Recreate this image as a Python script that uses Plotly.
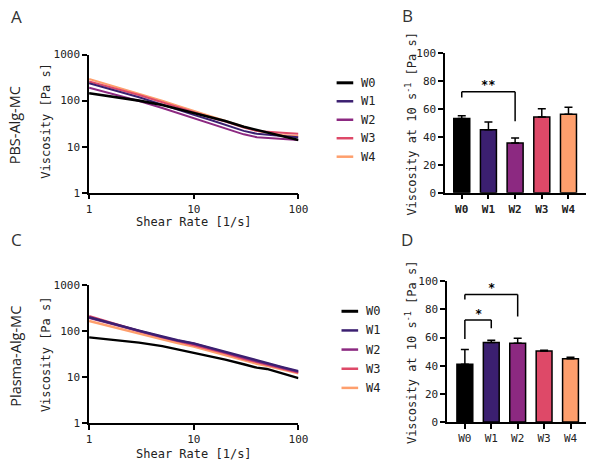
import plotly.graph_objects as go

# ---------------- data ----------------
groups = ["W0", "W1", "W2", "W3", "W4"]
colors = ["#000000", "#3b1f70", "#8c2981", "#de4968", "#fe9f6d"]

shear_rate = [1, 1.5, 2, 3, 5, 7, 10, 15, 20, 30, 40, 50, 70, 100]

pbs_W0 = [145, 128, 117, 100, 80, 66, 55, 43, 36, 27, 23, 20.5, 17, 14]
pbs_W1 = [240, 185, 152, 118, 82, 63, 49, 37, 30, 22, 19, 18, 17, 16]
pbs_W2 = [190, 150, 125, 98, 69, 54, 42, 31, 25, 18.5, 16, 15.5, 14.5, 14]
pbs_W3 = [260, 205, 170, 132, 92, 72, 56, 42, 35, 26, 22, 21, 20, 19]
pbs_W4 = [295, 225, 185, 145, 100, 78, 60, 45, 37, 27, 22, 20, 18, 17]

pla_W0 = [73, 67, 62, 56, 47, 40, 34, 28, 24, 19, 16, 15, 12, 9.5]
pla_W1 = [200, 155, 130, 102, 76, 63, 54, 42, 35, 27, 22.5, 20, 16.5, 13.5]
pla_W2 = [195, 152, 128, 100, 74, 62, 53, 41, 34, 26, 22, 19.5, 16, 13]
pla_W3 = [210, 158, 130, 100, 74, 61, 51, 40, 33, 25, 21, 19, 15.5, 12.5]
pla_W4 = [165, 130, 110, 88, 66, 55, 46, 36, 30, 23, 19.5, 17.5, 14.5, 12]

pbs_bar_mean = [53, 45, 35.5, 54, 56]
pbs_bar_err = [2, 5.5, 3.5, 6, 5]
pla_bar_mean = [41, 56.5, 56, 50.5, 45]
pla_bar_err = [10.5, 1.5, 3.5, 0.5, 1]

log_ticks = [1, 10, 100, 1000]
x_log_ticks = [1, 10, 100]
bar_ticks = [0, 20, 40, 60, 80, 100]

# significance: (group a, group b, top, left drop, right drop, label, label y)
pbs_sig = [("W0", "W2", 72, 68, 51, "**", 77)]
pla_sig = [("W0", "W1", 72.5, 59, 66.5, "*", 77),
           ("W0", "W2", 90.5, 87, 75, "*", 95)]

# ---------------- figure ----------------
W, H = 600, 468
def px(x):
    return x / W
def py(y):
    return 1 - y / H

MONO = "DejaVu Sans Mono"
SANS = "Open Sans"

fig = go.Figure()

pbs_lines = [pbs_W0, pbs_W1, pbs_W2, pbs_W3, pbs_W4]
pla_lines = [pla_W0, pla_W1, pla_W2, pla_W3, pla_W4]
for i in [4, 3, 1, 2, 0]:
    fig.add_trace(go.Scatter(x=shear_rate, y=pbs_lines[i], mode="lines",
                             line=dict(color=colors[i], width=2.6 if i == 0 else 2.0),
                             xaxis="x", yaxis="y", showlegend=False))
for i in [0, 4, 3, 2, 1]:
    fig.add_trace(go.Scatter(x=shear_rate, y=pla_lines[i], mode="lines",
                             line=dict(color=colors[i], width=2.4),
                             xaxis="x3", yaxis="y3", showlegend=False))

fig.add_trace(go.Bar(x=groups, y=pbs_bar_mean, width=0.6,
                     marker=dict(color=colors, line=dict(color="#000000", width=1.5)),
                     error_y=dict(type="data", symmetric=False, array=pbs_bar_err,
                                  arrayminus=[0] * 5, color="#000000", thickness=1.5, width=4),
                     xaxis="x2", yaxis="y2", showlegend=False))
fig.add_trace(go.Bar(x=groups, y=pla_bar_mean, width=0.6,
                     marker=dict(color=colors, line=dict(color="#000000", width=1.5)),
                     error_y=dict(type="data", symmetric=False, array=pla_bar_err,
                                  arrayminus=[0] * 5, color="#000000", thickness=1.5, width=4),
                     xaxis="x4", yaxis="y4", showlegend=False))

axis_common = dict(showline=True, linecolor="#000000", linewidth=1.6, ticks="outside",
                   ticklen=5, tickwidth=1.5, tickcolor="#000000", showgrid=False,
                   zeroline=False, tickfont=dict(family=MONO, size=11, color="#222222"))

fig.update_layout(
    width=W, height=H, margin=dict(l=0, r=0, t=0, b=0),
    paper_bgcolor="white", plot_bgcolor="white",
    xaxis=dict(domain=[px(88), px(302)], type="log", range=[0, 2],
               tickvals=x_log_ticks, ticktext=[str(v) for v in x_log_ticks],
               anchor="y", **axis_common),
    yaxis=dict(domain=[py(192), py(50)], type="log", range=[0, 3],
               tickvals=log_ticks, ticktext=[str(v) for v in log_ticks],
               anchor="x", **axis_common),
    xaxis3=dict(domain=[px(88), px(302)], type="log", range=[0, 2],
                tickvals=x_log_ticks, ticktext=[str(v) for v in x_log_ticks],
                anchor="y3", **axis_common),
    yaxis3=dict(domain=[py(429), py(287)], type="log", range=[0, 3],
                tickvals=log_ticks, ticktext=[str(v) for v in log_ticks],
                anchor="x3", **axis_common),
    xaxis2=dict(domain=[px(452), px(596)], type="category", range=[-0.62, 4.66],
                anchor="y2", **{**axis_common,
                                "tickfont": dict(family=MONO, size=11, color="#222222", weight="bold")}),
    yaxis2=dict(domain=[py(192), py(48)], range=[0, 100], tickvals=bar_ticks,
                anchor="x2", **axis_common),
    xaxis4=dict(domain=[px(454), px(596)], type="category", range=[-0.67, 4.59],
                anchor="y4", **axis_common),
    yaxis4=dict(domain=[py(428), py(283)], range=[0, 100], tickvals=bar_ticks,
                anchor="x4", **axis_common),
)

ann = []
def text(x, y, s, size, family, angle=0, color="#222222", xanchor="center"):
    ann.append(dict(x=px(x), y=py(y), xref="paper", yref="paper", text=s, showarrow=False,
                    textangle=angle, xanchor=xanchor, yanchor="middle",
                    font=dict(family=family, size=size, color=color)))

# panel letters
text(14, 11, "A", 17, SANS, color="#333333")
text(413, 10, "B", 17, SANS, color="#333333")
text(14, 240, "C", 17, SANS, color="#333333")
text(413, 240, "D", 17, SANS, color="#333333")

# row labels
text(12, 123, "PBS-Alg-MC", 14.5, SANS, angle=-90)
text(12, 360, "Plasma-Alg-MC", 14.5, SANS, angle=-90)

# axis titles
text(44, 118, "Viscosity [Pa s]", 12, MONO, angle=-90)
text(44, 358, "Viscosity [Pa s]", 12, MONO, angle=-90)
text(195, 222, "Shear Rate [1/s]", 12, MONO)
text(195, 461, "Shear Rate [1/s]", 12, MONO)
text(417, 121, "Viscosity at 10 s<sup>-1</sup> [Pa s]", 12, MONO, angle=-90)
text(417, 356, "Viscosity at 10 s<sup>-1</sup> [Pa s]", 12, MONO, angle=-90)

shapes = []
# legends
def legend(x0, y0, dy):
    for i, g in enumerate(groups):
        yy = y0 + i * dy
        shapes.append(dict(type="line", xref="paper", yref="paper",
                           x0=px(x0), x1=px(x0 + 17), y0=py(yy), y1=py(yy),
                           line=dict(color=colors[i], width=3 if i == 0 else 2.5)))
        text(x0 + 23, yy, g, 12, MONO, xanchor="left")
legend(341, 79, 19)
legend(346, 314, 19.7)

# significance brackets
def sig(lst, xr, yr):
    for a, b, top, la, rb, lab, ly in lst:
        for (x0, y0_, x1, y1_) in [(a, la, a, top), (a, top, b, top), (b, top, b, rb)]:
            shapes.append(dict(type="line", xref=xr, yref=yr, x0=x0, x1=x1, y0=y0_, y1=y1_,
                               line=dict(color="#000000", width=1.5)))
        ai = groups.index(a)
        bi = groups.index(b)
        ann.append(dict(x=(ai + bi) / 2, y=ly, xref=xr, yref=yr, text="<b>" + lab + "</b>",
                        showarrow=False, yanchor="middle",
                        font=dict(family=MONO, size=12, color="#000000")))
sig(pbs_sig, "x2", "y2")
sig(pla_sig, "x4", "y4")

fig.update_layout(annotations=ann, shapes=shapes)
fig.write_html("out.html", config={"displayModeBar": False},
               post_script="document.body.style.margin='0';")
